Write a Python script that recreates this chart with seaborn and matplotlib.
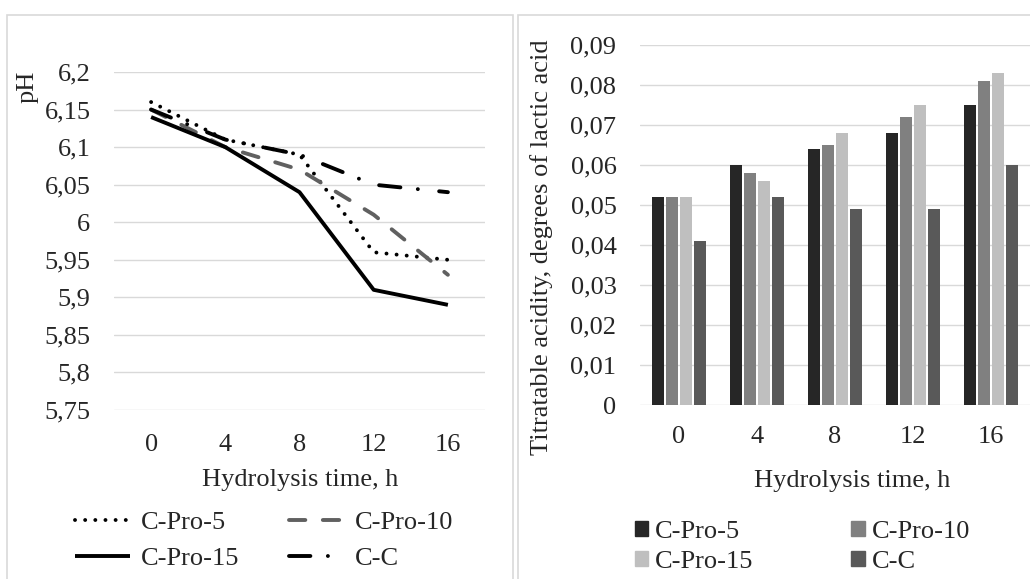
import matplotlib
matplotlib.use("Agg")
import matplotlib.pyplot as plt
import matplotlib.ticker as ticker
from matplotlib.patches import Rectangle, Patch
import numpy as np
import pandas as pd
import seaborn as sns

# data
hours = ["0", "4", "8", "12", "16"]
samples = ["C-Pro-5", "C-Pro-10", "C-Pro-15", "C-C"]

ph_pro5 = [6.16, 6.11, 6.09, 5.96, 5.95]
ph_pro10 = [6.15, 6.10, 6.07, 6.01, 5.93]
ph_pro15 = [6.14, 6.10, 6.04, 5.91, 5.89]
ph_cc = [6.15, 6.11, 6.09, 6.05, 6.04]

acid_pro5 = [0.052, 0.060, 0.064, 0.068, 0.075]
acid_pro10 = [0.052, 0.058, 0.065, 0.072, 0.081]
acid_pro15 = [0.052, 0.056, 0.068, 0.075, 0.083]
acid_cc = [0.041, 0.052, 0.049, 0.049, 0.060]

ph_values = [ph_pro5, ph_pro10, ph_pro15, ph_cc]
acid_values = [acid_pro5, acid_pro10, acid_pro15, acid_cc]

W, H = 1030, 579


def fx(px):
    return px / W


def fy(py):
    return 1 - py / H


def comma(v, pos):
    s = f"{v:.2f}".rstrip("0").rstrip(".")
    return s.replace(".", ",")


sns.set_theme(style="white")
plt.rcParams["font.family"] = ["Liberation Serif", "DejaVu Serif"]
plt.rcParams["font.size"] = 19

fig = plt.figure(figsize=(W / 100, H / 100), dpi=100)

# panel frames
grey = "#d9d9d9"
fig.add_artist(Rectangle((fx(7), fy(585)), fx(506), (585 - 15) / H,
                         transform=fig.transFigure, fill=False, ec=grey, lw=1.2))
fig.add_artist(Rectangle((fx(518), fy(585)), fx(520), (585 - 15) / H,
                         transform=fig.transFigure, fill=False, ec=grey, lw=1.2))

# ---- left: pH lines
ax1 = fig.add_axes([fx(114), fy(410), fx(371), (410 - 72) / H])

styles = {
    "C-Pro-5": dict(color="black", lw=2.8, linestyle=(0, (0.01, 2.6))),
    "C-Pro-10": dict(color="#606060", lw=2.8, linestyle=(0, (4.2, 4.5))),
    "C-Pro-15": dict(color="black", lw=2.8, linestyle="-"),
    "C-C": dict(color="black", lw=2.8, linestyle=(0, (5.5, 4.5, 0.01, 5.5))),
}

for name, vals in zip(samples, ph_values):
    sns.lineplot(x=hours, y=vals, ax=ax1, label=name, dash_capstyle="round",
                 solid_capstyle="butt", **styles[name])

ax1.set_ylim(5.75, 6.2)
ax1.set_xlim(-0.5, 4.5)
ax1.yaxis.set_major_locator(ticker.MultipleLocator(0.05))
ax1.yaxis.set_major_formatter(ticker.FuncFormatter(comma))
ax1.grid(axis="y", color=grey, lw=1.0)
ax1.grid(axis="x", visible=False)
for s in ax1.spines.values():
    s.set_visible(False)
ax1.tick_params(axis="y", length=0, pad=17, labelsize=19)
ax1.tick_params(axis="x", length=0, pad=17, labelsize=19)
ax1.set_xlabel("")
ax1.set_ylabel("")
ax1.get_legend().remove()

fig.text(fx(28), fy(87), "pH", rotation=90, ha="center", va="center", fontsize=19)
fig.text(fx(300), fy(480), "Hydrolysis time, h", ha="center", va="center", fontsize=19)

lines = {l.get_label(): l for l in ax1.get_lines()}
order = ["C-Pro-5", "C-Pro-15", "C-Pro-10", "C-C"]
fig.legend([lines[k] for k in order], order, ncol=2, loc="upper left",
           bbox_to_anchor=(fx(75), fy(511)), frameon=False, borderpad=0,
           borderaxespad=0, handlelength=2.1, handletextpad=0.38,
           columnspacing=1.9, labelspacing=0.45, fontsize=19)

# ---- right: titratable acidity bars
ax2 = fig.add_axes([fx(640), fy(405), fx(390), (405 - 45) / H])

df = pd.DataFrame({
    "time": np.tile(hours, len(samples)),
    "sample": np.repeat(samples, len(hours)),
    "acid": np.concatenate(acid_values),
})
colors = ["#262626", "#808080", "#bfbfbf", "#595959"]
pal = dict(zip(samples, colors))

sns.barplot(data=df, x="time", y="acid", hue="sample", hue_order=samples,
            order=hours, palette=pal, width=0.72, gap=0.2, linewidth=0,
            saturation=1, ax=ax2, legend=False)

ax2.set_ylim(0, 0.09)
ax2.set_xlim(-0.5, 4.5)
ax2.yaxis.set_major_locator(ticker.MultipleLocator(0.01))
ax2.yaxis.set_major_formatter(ticker.FuncFormatter(comma))
ax2.set_axisbelow(True)
ax2.grid(axis="y", color=grey, lw=1.0)
ax2.grid(axis="x", visible=False)
for s in ax2.spines.values():
    s.set_visible(False)
ax2.tick_params(axis="y", length=0, pad=17, labelsize=19)
ax2.tick_params(axis="x", length=0, pad=15, labelsize=19)
ax2.set_xlabel("")
ax2.set_ylabel("")

fig.text(fx(542), fy(247), "Titratable acidity, degrees of lactic acid",
         rotation=90, ha="center", va="center", fontsize=19)
fig.text(fx(852), fy(481), "Hydrolysis time, h", ha="center", va="center", fontsize=19)

patches = {k: Patch(color=pal[k]) for k in samples}
fig.legend([patches[k] for k in order], order, ncol=2, loc="upper left",
           bbox_to_anchor=(fx(635), fy(521)), frameon=False, borderpad=0,
           borderaxespad=0, handlelength=0.5, handleheight=0.5,
           handletextpad=0.27, columnspacing=3.7, labelspacing=0.3, fontsize=19)

fig.savefig("out.png", dpi=100)
